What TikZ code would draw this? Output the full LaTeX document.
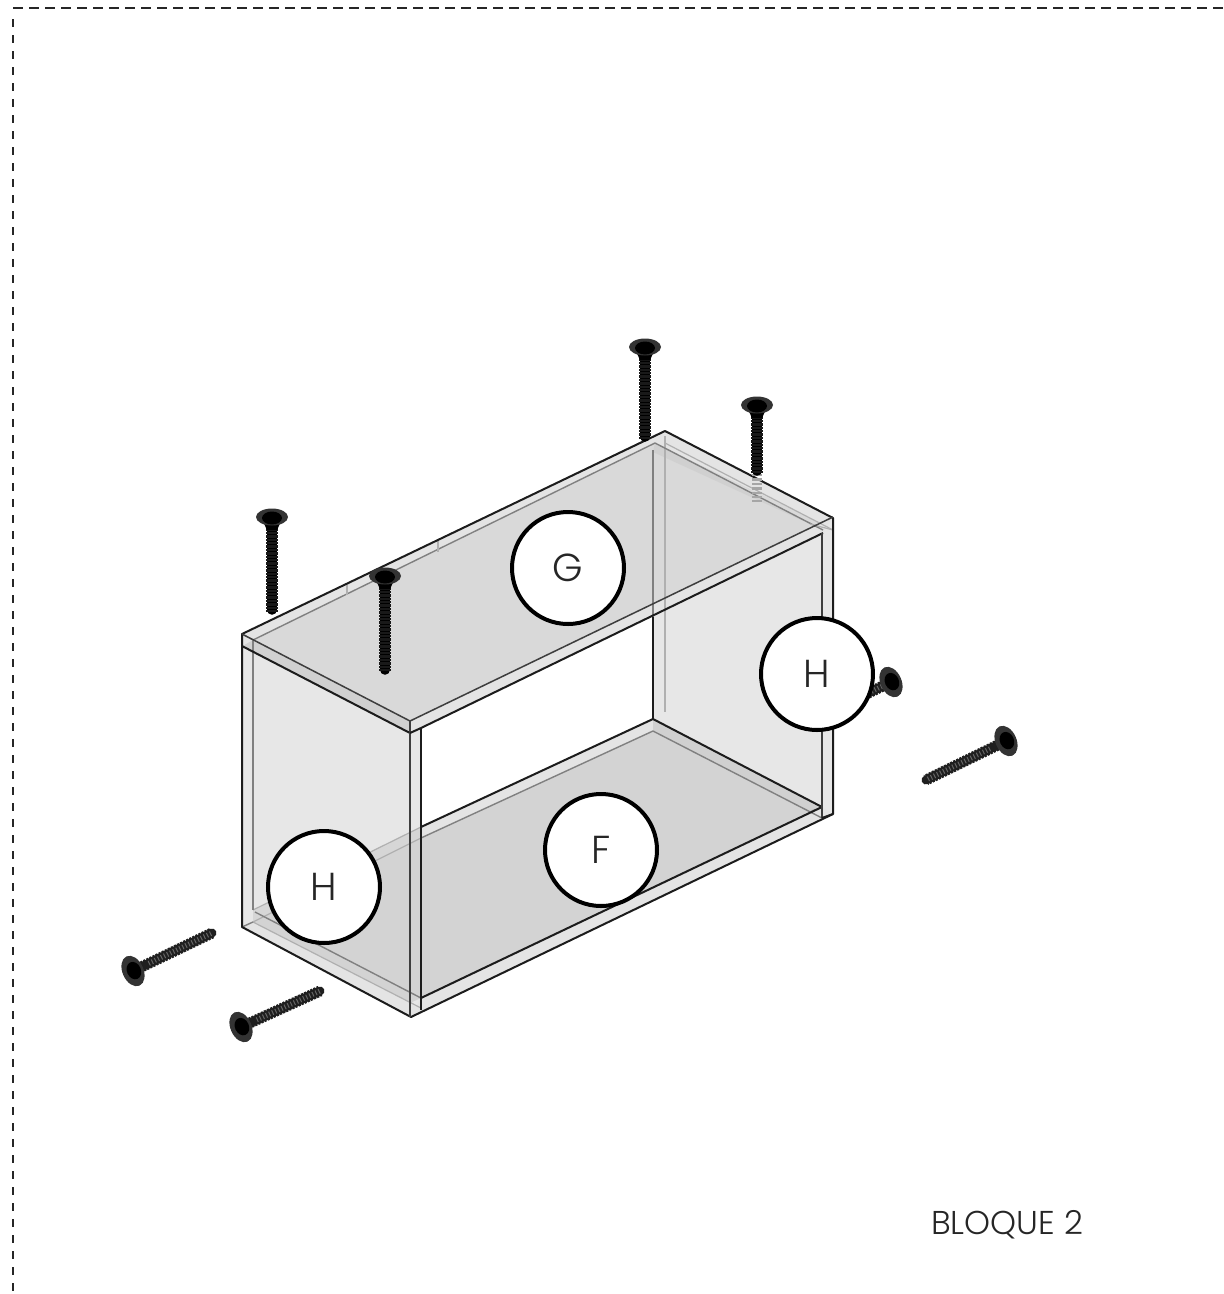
\documentclass[tikz,border=0pt]{standalone}
\usepackage{fontspec}
\setmainfont{Poppins Light}
\definecolor{sidep}{HTML}{E7E7E7}
\definecolor{topp}{HTML}{D9D9D9}
\definecolor{botp}{HTML}{D3D3D3}
\definecolor{bandl}{HTML}{E4E4E4}
\definecolor{bandd}{HTML}{D0D0D0}
\definecolor{edgeg}{HTML}{808080}
\definecolor{edgel}{HTML}{B0B0B0}
\definecolor{edged}{HTML}{1C1C1C}
\tikzset{
  heavy/.style={draw=edged,line width=2pt,line join=round},
  medium/.style={draw=edged!85,line width=1.5pt},
  soft/.style={draw=edgeg,line width=1.4pt},
  faint/.style={draw=edgel,line width=1.2pt},
  label/.style={circle,draw=black,fill=white,line width=4pt,minimum size=112pt,inner sep=0pt,font=\fontsize{39}{39}\selectfont,text=black!85},
  border/.style={draw=black!85,line width=1.4pt}
}
% vertical screw: head x, head y, tip y
\newcommand{\vscrew}[3]{%
  \draw[line width=9.5pt,black,line cap=round] (#1,#2) -- (#1,#3-5);
  \draw[line width=12pt,black!90,dash pattern=on 2.4pt off 1pt] (#1,#2+8) -- (#1,#3-3);
  \fill[black] (#1-11,#2) -- (#1+11,#2) -- (#1+5,#2+13) -- (#1-5,#2+13) -- cycle;
  \fill[black!80] (#1,#2) ellipse [x radius=16pt,y radius=8.5pt];
  \fill[black] (#1,#2+1) ellipse [x radius=10pt,y radius=6.5pt];
}
% tilted screw: head x, head y, tip x, tip y
\newcommand{\hscrew}[4]{%
  \draw[line width=9pt,black!88,line cap=round] (#1,#2) -- (#3,#4);
  \draw[line width=11pt,black!88,dash pattern=on 2.2pt off 1.2pt] (#1,#2) -- (#3,#4);
  \draw[line width=5pt,black!60,dash pattern=on 1pt off 2.4pt] ($(#1,#2)!0.2!(#3,#4)$) -- (#3,#4);
  \fill[black!80,rotate around={24:(#1,#2)}] (#1,#2) ellipse [x radius=10.5pt,y radius=16pt];
  \fill[black,rotate around={24:(#1,#2)}] (#1+1,#2) ellipse [x radius=7pt,y radius=9pt];
}
\usetikzlibrary{calc}
\begin{document}
\begin{tikzpicture}[x=1pt,y=-1pt]
\useasboundingbox (0,0) rectangle (1224,1294);
\fill[white] (0,0) rectangle (1224,1294);
% dashed frame
\draw[border,dash pattern=on 10pt off 6pt] (13,8) -- (1224,8);
\draw[border,dash pattern=on 8pt off 8pt] (13,19) -- (13,1294);

% panels
\fill[sidep] (242,646) -- (410,733) -- (421,728) -- (421,1012) -- (411,1017) -- (242,927) -- cycle;
\fill[sidep] (653,617) -- (665,440) -- (833,518) -- (833,814) -- (822,818) -- (653,719) -- cycle;
% floor
\fill[botp] (421,838) -- (653,731) -- (822,807) -- (421,998) -- cycle;
\fill[botp] (253,922) -- (421,838) -- (421,998) -- (410,1003) -- cycle;
\fill[bandl] (421,827) -- (653,719) -- (653,731) -- (421,838) -- cycle;
\fill[bandd] (653,719) -- (822,807) -- (810,812) -- (653,731) -- cycle;
\fill[bandl] (421,998) -- (822,807) -- (833,814) -- (411,1017) -- cycle;
\fill[bandl] (242,927) -- (253,922) -- (421,1008) -- (411,1017) -- cycle;
\fill[black!16] (253,910) -- (421,827) -- (421,838) -- (253,922) -- cycle;
% roof
\fill[topp] (242,634) -- (665,430) -- (833,518) -- (421,728) -- (410,733) -- (242,646) -- cycle;
\fill[bandl] (242,634) -- (665,430) -- (655,443) -- (253,640) -- cycle;
\fill[bandl] (665,430) -- (833,518) -- (823,524) -- (655,443) -- cycle;
\fill[bandd] (655,443) -- (823,530) -- (823,533) -- (810,524) -- (653,452) -- cycle;
\fill[bandd] (253,640) -- (421,727) -- (410,733) -- (242,646) -- cycle;
\fill[bandl] (410,721) -- (833,517) -- (823,533) -- (421,728) -- cycle;
\fill[bandl] (242,634) -- (253,640) -- (242,646) -- cycle;
\fill[bandl] (410,721) -- (421,727) -- (421,728) -- (410,733) -- cycle;

% translucent lines of the far side
\draw[soft] (653,450) -- (653,719);
\draw[faint] (665,436) -- (665,712);
\draw[soft] (653,731) -- (822,818);
\draw[soft] (421,838) -- (653,731);
\draw[faint] (253,910) -- (421,827);
\draw[faint] (253,922) -- (421,838);
\draw[soft] (255,912) -- (421,998);
\draw[faint] (253,922) -- (421,1008);
\draw[soft] (253,640) -- (253,910);
\draw[soft] (242,927) -- (253,922);
\draw[soft] (253,640) -- (655,443);
\draw[soft] (655,443) -- (823,530);
\draw[faint] (665,443) -- (833,530);
\draw[faint] (347,583) -- (347,595);
\draw[faint] (438,540) -- (438,552);
\draw[faint] (242,634) -- (253,640);
\draw[faint] (410,733) -- (421,728);
\draw[faint] (810,524) -- (833,530);
\draw[faint] (811,811) -- (822,807);

% main edges
\draw[heavy] (242,646) -- (242,927) -- (411,1017) -- (833,814) -- (833,518) -- (665,431) -- (242,634) -- (242,646) -- (410,733);
\draw[medium] (242,634) -- (410,721);
\draw[medium] (410,721) -- (833,517);
\draw[heavy] (421,728) -- (823,533);
\draw[medium] (410,721) -- (410,1017);
\draw[heavy] (421,728) -- (421,1010);
\draw[heavy] (410,733) -- (421,728);
\draw[heavy] (421,827) -- (653,719) -- (822,807);
\draw[heavy] (421,998) -- (822,807);
\draw[medium] (822,533) -- (822,818);
\draw[heavy] (653,617) -- (653,719);
\draw[heavy] (822,818) -- (833,814);

% screws
\vscrew{272}{517}{615}
\vscrew{385}{576}{675}
\vscrew{645}{347}{442}
\draw[line width=10pt,black!35,dash pattern=on 2.4pt off 2pt] (757,474) -- (757,502);
\vscrew{757}{405}{476}
\hscrew{133}{971}{212}{933}
\hscrew{241}{1027}{320}{991}
\hscrew{1006}{741}{926}{780}
\hscrew{891}{682}{860}{697}

% labels
\node[label] (g) at (568,568) {G};
\node[label] (hr) at (817,674) {H};
\node[label] (f) at (601,850) {F};
\node[label] (hl) at (324,887) {H};
\node[font=\fontsize{33}{33}\selectfont,text=black!85,inner sep=0pt] (blq) at (1007,1225) {BLOQUE 2};
\end{tikzpicture}
\end{document}
